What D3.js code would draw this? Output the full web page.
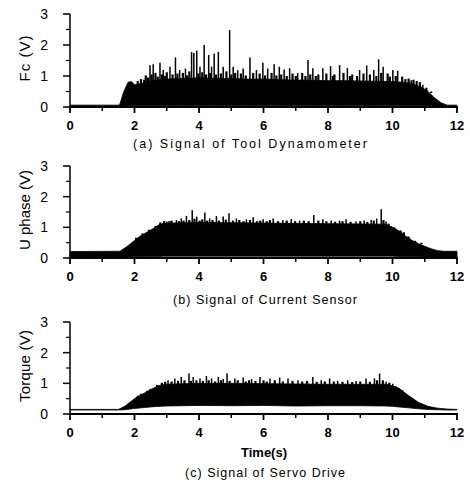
<html>
<head>
<script src="https://d3js.org/d3.v7.min.js"></script>
<style>
    body { margin: 0; background: #fff; }
    text { font-family: "Liberation Sans", Arial, sans-serif; fill: #000; }
</style>
</head>
<body>
<div id="chart"></div>
<script>
// envelope of the dense signal (time in s, volts)
const fcT     = [0, 1.5, 1.55, 1.65, 1.8, 1.9, 2.0, 2.2, 2.5, 3.0, 3.5, 4.0, 4.5, 5.0, 5.5, 6.0, 6.5, 7.0, 7.5, 8.0, 8.5, 9.0, 9.5, 10.0, 10.3, 10.6, 10.9, 11.1, 11.3, 11.5, 11.7, 12];
const fcUpper = [0.06, 0.06, 0.1, 0.45, 0.8, 0.82, 0.72, 0.76, 0.84, 0.9, 0.92, 0.94, 0.92, 0.92, 0.9, 0.9, 0.88, 0.87, 0.86, 0.85, 0.85, 0.84, 0.83, 0.82, 0.8, 0.76, 0.64, 0.5, 0.3, 0.14, 0.06, 0.06];
const fcLower = [0.02, 0.02, 0.02, 0.03, 0.04, 0.04, 0.04, 0.04, 0.05, 0.05, 0.05, 0.05, 0.05, 0.05, 0.05, 0.05, 0.05, 0.05, 0.05, 0.05, 0.05, 0.05, 0.05, 0.05, 0.05, 0.04, 0.04, 0.04, 0.03, 0.03, 0.02, 0.02];
// tall spikes [time, peak]
const fcSpikes = [
    [2.48, 1.35], [2.58, 1.38], [2.79, 1.43], [2.89, 1.19], [3.1, 1.3], [3.27, 1.6], [3.4, 1.19], [3.58, 1.24],
    [3.77, 1.77], [3.84, 1.74], [3.93, 1.82], [4.03, 1.3], [4.16, 2.0], [4.3, 1.68], [4.39, 1.3], [4.47, 1.72],
    [4.6, 1.78], [4.75, 1.3], [4.95, 2.48], [5.06, 1.3], [5.2, 1.19], [5.37, 1.24], [5.58, 1.6], [5.78, 1.19],
    [5.98, 1.43], [6.13, 1.24], [6.33, 1.38], [6.49, 1.3], [6.64, 1.21], [6.81, 1.25], [7.06, 1.09], [7.38, 1.52],
    [7.53, 1.25], [7.84, 1.25], [8.08, 1.32], [8.36, 1.35], [8.6, 1.26], [8.98, 1.19], [9.2, 1.34], [9.42, 1.19],
    [9.57, 1.54], [9.71, 1.3], [10.01, 1.19], [10.16, 1.17], [10.58, 0.86], [10.94, 0.72]
];
// short ragged peaks on top of the dense band
const fcRipple = [
    [2.1, 0.84], [2.2, 0.9], [2.3, 0.88], [2.35, 1.02], [2.42, 0.95], [2.53, 1.05], [2.65, 1.1], [2.72, 0.98],
    [2.85, 1.05], [2.95, 1.0], [3.0, 1.12], [3.18, 1.05], [3.33, 1.08], [3.5, 1.1], [3.63, 1.02], [3.7, 1.15],
    [3.98, 1.08], [4.1, 1.12], [4.22, 1.05], [4.35, 1.1], [4.53, 1.05], [4.68, 1.08], [4.85, 1.15], [5.0, 1.05],
    [5.12, 1.1], [5.3, 1.08], [5.45, 1.02], [5.68, 1.1], [5.88, 1.08], [6.05, 1.02], [6.25, 1.1], [6.4, 1.02],
    [6.55, 1.05], [6.72, 1.0], [6.9, 1.08], [7.0, 1.0], [7.2, 1.1], [7.3, 1.0], [7.45, 1.05], [7.62, 1.0],
    [7.7, 1.05], [7.95, 1.08], [8.15, 1.0], [8.2, 1.05], [8.48, 1.1], [8.68, 1.0], [8.75, 1.05], [8.9, 1.0],
    [9.1, 1.08], [9.3, 1.05], [9.5, 1.0], [9.65, 1.1], [9.85, 1.08], [9.92, 0.98], [10.1, 1.0], [10.3, 0.98],
    [10.4, 0.9], [10.5, 0.92], [10.65, 0.88], [10.75, 0.84], [10.85, 0.8], [11.05, 0.62], [11.2, 0.45]
];

const upT     = [0, 1.55, 1.8, 2.0, 2.2, 2.4, 2.6, 2.75, 2.9, 3.5, 4.0, 5.0, 6.0, 7.0, 8.0, 9.0, 9.8, 10.0, 10.2, 10.4, 10.6, 10.8, 11.0, 11.2, 11.4, 11.6, 12];
const upUpper = [0.21, 0.22, 0.4, 0.57, 0.73, 0.85, 0.97, 1.08, 1.13, 1.15, 1.16, 1.15, 1.14, 1.13, 1.12, 1.11, 1.1, 1.0, 0.88, 0.72, 0.58, 0.47, 0.38, 0.3, 0.24, 0.22, 0.22];
const upLower = [0.02, 0.02, 0.03, 0.04, 0.05, 0.05, 0.05, 0.05, 0.06, 0.06, 0.06, 0.06, 0.06, 0.06, 0.06, 0.06, 0.06, 0.06, 0.05, 0.05, 0.04, 0.04, 0.03, 0.03, 0.02, 0.02, 0.02];
const upSpikes = [
    [3.0, 1.19], [3.3, 1.24], [3.45, 1.29], [3.61, 1.37], [3.79, 1.56], [3.93, 1.35], [4.18, 1.48], [4.33, 1.29],
    [4.54, 1.37], [4.75, 1.35], [4.93, 1.46], [5.16, 1.29], [5.47, 1.26], [5.68, 1.33], [5.99, 1.26], [6.3, 1.29],
    [6.6, 1.24], [6.86, 1.27], [7.12, 1.22], [7.56, 1.4], [7.84, 1.26], [8.1, 1.22], [8.36, 1.22], [8.56, 1.26],
    [8.87, 1.19], [9.12, 1.22], [9.34, 1.24], [9.51, 1.29], [9.65, 1.59], [9.8, 1.19], [9.96, 1.03], [10.11, 0.95]
];
const upRipple = [
    [2.05, 0.66], [2.25, 0.8], [2.45, 0.92], [2.65, 1.04], [2.8, 1.16], [2.92, 1.2], [3.08, 1.2], [3.15, 1.22],
    [3.38, 1.2], [3.52, 1.22], [3.7, 1.24], [3.86, 1.28], [4.02, 1.22], [4.1, 1.26], [4.25, 1.22], [4.42, 1.24],
    [4.62, 1.22], [4.83, 1.25], [5.05, 1.22], [5.25, 1.24], [5.38, 1.2], [5.58, 1.24], [5.8, 1.2], [5.9, 1.22],
    [6.1, 1.2], [6.2, 1.24], [6.45, 1.2], [6.72, 1.22], [6.98, 1.2], [7.25, 1.22], [7.4, 1.2], [7.7, 1.22],
    [7.95, 1.2], [8.22, 1.18], [8.45, 1.2], [8.7, 1.18], [9.0, 1.2], [9.22, 1.18], [9.42, 1.22], [9.72, 1.24],
    [9.88, 1.12], [10.05, 1.0], [10.25, 0.9], [10.35, 0.84], [10.5, 0.7], [10.7, 0.56], [10.9, 0.45]
];

const tqT     = [0, 1.5, 1.7, 2.0, 2.3, 2.6, 2.8, 3.0, 4.0, 5.0, 6.0, 7.0, 8.0, 9.0, 9.8, 10.0, 10.2, 10.5, 10.8, 11.1, 11.4, 11.7, 12];
const tqUpper = [0.15, 0.15, 0.25, 0.5, 0.68, 0.85, 0.94, 0.97, 1.0, 1.0, 0.99, 0.98, 0.97, 0.97, 0.97, 0.92, 0.84, 0.6, 0.38, 0.25, 0.19, 0.16, 0.15];
const tqLower = [0.13, 0.13, 0.14, 0.18, 0.21, 0.24, 0.25, 0.26, 0.28, 0.27, 0.28, 0.26, 0.27, 0.27, 0.26, 0.25, 0.23, 0.2, 0.17, 0.15, 0.14, 0.13, 0.13];
const tqSpikes = [
    [3.04, 1.1], [3.25, 1.16], [3.45, 1.21], [3.69, 1.32], [3.82, 1.21], [4.03, 1.16], [4.23, 1.24], [4.39, 1.16],
    [4.6, 1.21], [4.75, 1.14], [4.87, 1.32], [5.11, 1.16], [5.37, 1.19], [5.63, 1.14], [5.89, 1.21], [6.2, 1.16],
    [6.5, 1.19], [6.76, 1.16], [7.07, 1.1], [7.53, 1.21], [7.79, 1.1], [8.05, 1.16], [8.3, 1.08], [8.61, 1.1],
    [8.87, 1.08], [9.18, 1.16], [9.44, 1.16], [9.6, 1.32], [9.8, 1.05], [10.01, 0.99]
];
const tqRipple = [
    [2.1, 0.6], [2.2, 0.66], [2.4, 0.76], [2.5, 0.82], [2.7, 0.95], [2.85, 1.02], [2.95, 1.05], [3.15, 1.06],
    [3.35, 1.08], [3.55, 1.1], [3.75, 1.08], [3.92, 1.1], [4.12, 1.08], [4.3, 1.1], [4.5, 1.06], [4.68, 1.1],
    [4.95, 1.08], [5.2, 1.1], [5.45, 1.06], [5.55, 1.1], [5.75, 1.08], [6.0, 1.1], [6.1, 1.06], [6.35, 1.1],
    [6.6, 1.06], [6.9, 1.08], [7.2, 1.06], [7.35, 1.08], [7.65, 1.05], [7.9, 1.06], [8.18, 1.06], [8.45, 1.05],
    [8.75, 1.04], [9.0, 1.06], [9.3, 1.05], [9.52, 1.1], [9.7, 1.1], [9.9, 1.02], [10.1, 0.9], [10.3, 0.78]
];

const xTicks = [0, 2, 4, 6, 8, 10, 12];
const xMinor = [1, 3, 5, 7, 9, 11];
const yTicks = [0, 1, 2, 3];
const yMinor = [0.5, 1.5, 2.5];

const panels = [
    { t: fcT, up: fcUpper, lo: fcLower, spikes: fcSpikes, ripple: fcRipple, ylabel: 'Fc (V)', caption: '(a) Signal of Tool Dynamometer',
      top: 14, bottom: 107, ylabW: 46, capX: 250, capY: 148, capW: 234 },
    { t: upT, up: upUpper, lo: upLower, spikes: upSpikes, ripple: upRipple, ylabel: 'U phase (V)', caption: '(b) Signal of Current Sensor',
      top: 166, bottom: 258, ylabW: 80, capX: 265, capY: 304, capW: 184 },
    { t: tqT, up: tqUpper, lo: tqLower, spikes: tqSpikes, ripple: tqRipple, ylabel: 'Torque (V)', caption: '(c) Signal of Servo Drive',
      top: 322, bottom: 414, ylabW: 72, capX: 265, capY: 477, capW: 160 }
];

const svg = d3.select('#chart').append('svg')
    .attr('width', 470)
    .attr('height', 487);

const xScale = d3.scaleLinear().domain([0, 12]).range([70, 457]);

panels.forEach((p, k) => {
    const yScale = d3.scaleLinear().domain([0, 3]).range([p.bottom, p.top]);
    const g = svg.append('g');

    const rows = p.t.map((t, i) => ({ t: t, up: p.up[i], lo: p.lo[i] }));
    const area = d3.area()
        .x(d => xScale(d.t))
        .y0(d => yScale(d.lo))
        .y1(d => yScale(d.up));
    g.append('path')
        .datum(rows)
        .attr('d', area)
        .attr('fill', '#000')
        .attr('stroke', '#000')
        .attr('stroke-width', 0.8);

    // ragged top: short peaks, drawn as small wedges
    p.ripple.forEach(s => {
        g.append('line')
            .attr('x1', xScale(s[0])).attr('x2', xScale(s[0]))
            .attr('y1', yScale(0.5)).attr('y2', yScale(s[1]))
            .attr('stroke', '#000')
            .attr('stroke-width', 2.2);
    });

    p.spikes.forEach(s => {
        g.append('line')
            .attr('x1', xScale(s[0])).attr('x2', xScale(s[0]))
            .attr('y1', yScale(0.6)).attr('y2', yScale(s[1]))
            .attr('stroke', '#000')
            .attr('stroke-width', 1.5);
    });

    // y axis
    g.append('line')
        .attr('x1', 70).attr('x2', 70)
        .attr('y1', yScale(0)).attr('y2', yScale(3))
        .attr('stroke', '#000').attr('stroke-width', 1.5);
    yTicks.forEach(v => {
        g.append('line')
            .attr('x1', 63).attr('x2', 70)
            .attr('y1', yScale(v)).attr('y2', yScale(v))
            .attr('stroke', '#000').attr('stroke-width', 1.5);
        g.append('text')
            .attr('x', 48).attr('y', yScale(v) + 5)
            .attr('text-anchor', 'end')
            .attr('font-size', 14)
            .text(v);
    });
    yMinor.forEach(v => {
        g.append('line')
            .attr('x1', 66).attr('x2', 70)
            .attr('y1', yScale(v)).attr('y2', yScale(v))
            .attr('stroke', '#000').attr('stroke-width', 1.2);
    });

    // x axis
    g.append('line')
        .attr('x1', 70).attr('x2', 458)
        .attr('y1', yScale(0)).attr('y2', yScale(0))
        .attr('stroke', '#000').attr('stroke-width', 2);
    xTicks.forEach(v => {
        g.append('line')
            .attr('x1', xScale(v)).attr('x2', xScale(v))
            .attr('y1', yScale(0)).attr('y2', yScale(0) + 6)
            .attr('stroke', '#000').attr('stroke-width', 1.8);
        g.append('text')
            .attr('x', xScale(v)).attr('y', yScale(0) + 23)
            .attr('text-anchor', 'middle')
            .attr('font-size', 13)
            .attr('font-weight', 'bold')
            .text(v);
    });
    xMinor.forEach(v => {
        g.append('line')
            .attr('x1', xScale(v)).attr('x2', xScale(v))
            .attr('y1', yScale(0)).attr('y2', yScale(0) + 4)
            .attr('stroke', '#000').attr('stroke-width', 1.5);
    });

    const midY = (p.top + p.bottom) / 2;
    g.append('text')
        .attr('transform', `translate(30,${midY - 2}) rotate(-90)`)
        .attr('text-anchor', 'middle')
        .attr('font-size', 15)
        .attr('textLength', p.ylabW)
        .attr('lengthAdjust', 'spacing')
        .text(p.ylabel);

    g.append('text')
        .attr('x', p.capX).attr('y', p.capY)
        .attr('text-anchor', 'middle')
        .attr('font-size', 12.5)
        .attr('textLength', p.capW)
        .attr('lengthAdjust', 'spacing')
        .text(p.caption);
});

svg.append('text')
    .attr('x', 264).attr('y', 457)
    .attr('text-anchor', 'middle')
    .attr('font-size', 13)
    .attr('font-weight', 'bold')
    .text('Time(s)');
</script>
</body>
</html>
